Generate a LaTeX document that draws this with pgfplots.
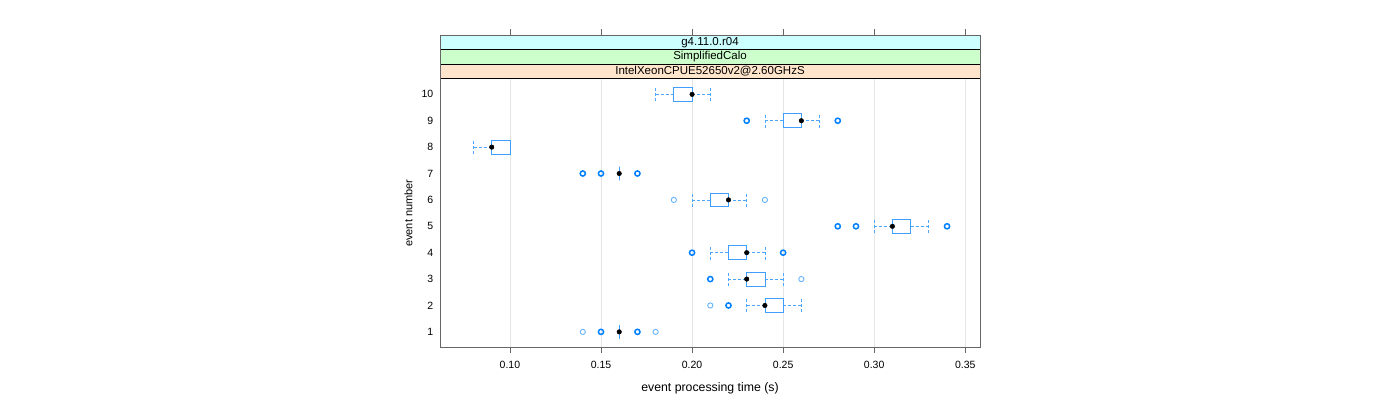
\documentclass[border=0pt]{standalone}
\usepackage{pgfplots}
\pgfplotsset{compat=1.18}
\usepgfplotslibrary{statistics}
\usepackage{fontspec}
\setmainfont{Liberation Sans}
\definecolor{boxc}{HTML}{3F9FFF}
\definecolor{whisc}{HTML}{4DA6FF}
\definecolor{ptc}{HTML}{0080FF}
\definecolor{stripA}{HTML}{CCFFFF}
\definecolor{stripB}{HTML}{CCFFCC}
\definecolor{stripC}{HTML}{FFE5CC}
\definecolor{framec}{HTML}{666666}
\pgfplotsset{
  latbox/.style={
    draw=boxc,
    boxplot/draw direction=x,
    boxplot/box extend=0.52,
    boxplot/every box/.style={draw=boxc, line width=0.8pt, fill=none},
    boxplot/draw/median/.code={\fill[black] (boxplot box cs:\pgfplotsboxplotvalue{median},0.5) circle[radius=2.3pt];},
    boxplot/draw/lower whisker/.code={%
      \draw[whisc, line width=0.8pt, dash pattern=on 3pt off 2pt] (boxplot box cs:\pgfplotsboxplotvalue{lower whisker},0.5) -- (boxplot box cs:\pgfplotsboxplotvalue{lower quartile},0.5);
      \draw[whisc, line width=0.8pt, dash pattern=on 3pt off 2pt] (boxplot box cs:\pgfplotsboxplotvalue{lower whisker},0) -- (boxplot box cs:\pgfplotsboxplotvalue{lower whisker},1);},
    boxplot/draw/upper whisker/.code={%
      \draw[whisc, line width=0.8pt, dash pattern=on 3pt off 2pt] (boxplot box cs:\pgfplotsboxplotvalue{upper quartile},0.5) -- (boxplot box cs:\pgfplotsboxplotvalue{upper whisker},0.5);
      \draw[whisc, line width=0.8pt, dash pattern=on 3pt off 2pt] (boxplot box cs:\pgfplotsboxplotvalue{upper whisker},0) -- (boxplot box cs:\pgfplotsboxplotvalue{upper whisker},1);},
  },
}
\pgfplotstableread{
x y
0.14 1
0.18 1
0.21 2
0.26 3
0.19 6
0.24 6
}\lightout
\pgfplotstableread{
x y
0.15 1
0.17 1
0.22 2
0.21 3
0.20 4
0.25 4
0.28 5
0.29 5
0.34 5
0.14 7
0.15 7
0.17 7
0.23 9
0.28 9
}\boldout
\begin{document}
\fontsize{10.5}{12}\selectfont
\begin{tikzpicture}
\useasboundingbox (0,0) rectangle (1400pt,400pt);
\begin{axis}[
  at={(440pt,52.3pt)}, anchor=south west,
  scale only axis, width=540pt, height=269.2pt,
  xmin=0.0616, xmax=0.3581, ymin=0.4, ymax=10.6,
  clip=false,
  axis line style={framec, line width=0.9pt},
  xtick={0.10,0.15,0.20,0.25,0.30,0.35},
  xticklabels={0.10,0.15,0.20,0.25,0.30,0.35},
  ytick={1,2,3,4,5,6,7,8,9,10},
  xtick pos=bottom, tick align=outside,
  major tick length=5pt,
  xtick style={framec, line width=0.8pt},
  ytick style={draw=none},
  xmajorgrids, major grid style={black!10, line width=0.7pt},
  /pgf/number format/assume math mode=true,
  ticklabel style={font=\fontsize{10.5}{12}\selectfont},
  xticklabel style={yshift=-5pt},
  yticklabel style={anchor=east, xshift=2pt},
  xlabel={event processing time (s)},
  ylabel={event number},
  xlabel style={font=\fontsize{12.3}{14}\selectfont, yshift=-7pt},
  ylabel style={font=\fontsize{11}{13}\selectfont, yshift=2pt},
  latbox,
]
\addplot[latbox, boxplot prepared={draw position=10, lower whisker=0.18, lower quartile=0.19, median=0.20, upper quartile=0.20, upper whisker=0.21}] coordinates {};
\addplot[latbox, boxplot prepared={draw position=9, lower whisker=0.24, lower quartile=0.25, median=0.26, upper quartile=0.26, upper whisker=0.27}] coordinates {};
\addplot[latbox, boxplot prepared={draw position=8, lower whisker=0.08, lower quartile=0.09, median=0.09, upper quartile=0.10, upper whisker=0.10}] coordinates {};
\addplot[latbox, boxplot prepared={draw position=7, lower whisker=0.16, lower quartile=0.16, median=0.16, upper quartile=0.16, upper whisker=0.16}] coordinates {};
\addplot[latbox, boxplot prepared={draw position=6, lower whisker=0.20, lower quartile=0.21, median=0.22, upper quartile=0.22, upper whisker=0.23}] coordinates {};
\addplot[latbox, boxplot prepared={draw position=5, lower whisker=0.30, lower quartile=0.31, median=0.31, upper quartile=0.32, upper whisker=0.33}] coordinates {};
\addplot[latbox, boxplot prepared={draw position=4, lower whisker=0.21, lower quartile=0.22, median=0.23, upper quartile=0.23, upper whisker=0.24}] coordinates {};
\addplot[latbox, boxplot prepared={draw position=3, lower whisker=0.22, lower quartile=0.23, median=0.23, upper quartile=0.24, upper whisker=0.25}] coordinates {};
\addplot[latbox, boxplot prepared={draw position=2, lower whisker=0.23, lower quartile=0.24, median=0.24, upper quartile=0.25, upper whisker=0.26}] coordinates {};
\addplot[latbox, boxplot prepared={draw position=1, lower whisker=0.16, lower quartile=0.16, median=0.16, upper quartile=0.16, upper whisker=0.16}] coordinates {};
\addplot[only marks, mark=o, mark size=2.6pt, mark options={draw=ptc!60, line width=0.9pt}] table[x=x,y=y] {\lightout};
\addplot[only marks, mark=o, mark size=2.6pt, mark options={draw=ptc, line width=1.5pt}] table[x=x,y=y] {\boldout};
\end{axis}
\draw[black, line width=0.8pt, fill=stripC] (440pt,321.5pt) rectangle (980pt,336pt);
\draw[black, line width=0.8pt, fill=stripB] (440pt,336pt) rectangle (980pt,350.5pt);
\draw[black, line width=0.8pt, fill=stripA] (440pt,350.5pt) rectangle (980pt,365pt);
\draw[framec, line width=0.9pt] (440pt,321.5pt) -- (440pt,365pt) -- (980pt,365pt) -- (980pt,321.5pt);
\foreach \tx in {509.9,601.0,692.1,783.2,874.2,965.3}{
  \draw[framec, line width=0.8pt] (\tx pt,365pt) -- (\tx pt,370.5pt);
}
\node[font=\fontsize{11.5}{13}\selectfont] at (710pt,328.75pt) {IntelXeonCPUE52650v2@2.60GHzS};
\node[font=\fontsize{11.5}{13}\selectfont] at (710pt,343.25pt) {SimplifiedCalo};
\node[font=\fontsize{11.5}{13}\selectfont] at (710pt,357.75pt) {g4.11.0.r04};
\end{tikzpicture}
\end{document}
